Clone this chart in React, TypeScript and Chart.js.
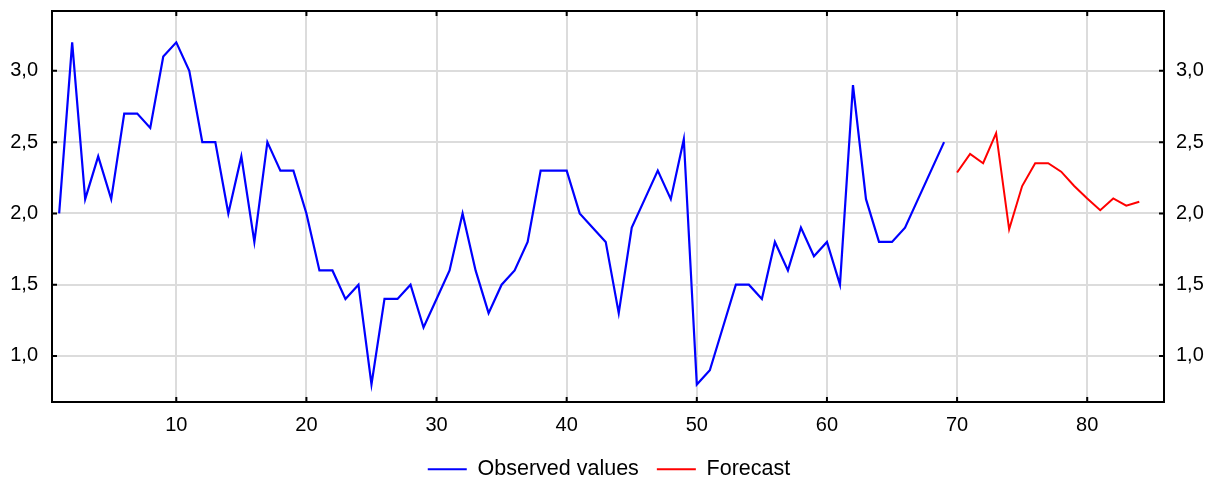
import React, { useEffect, useRef } from "react";
import { Chart, registerables } from "chart.js";

Chart.register(...registerables);

const observedValues: number[] = [
  2.0, 3.2, 2.1, 2.4, 2.1, 2.7, 2.7, 2.6, 3.1, 3.2,
  3.0, 2.5, 2.5, 2.0, 2.4, 1.8, 2.5, 2.3, 2.3, 2.0,
  1.6, 1.6, 1.4, 1.5, 0.8, 1.4, 1.4, 1.5, 1.2, 1.4,
  1.6, 2.0, 1.6, 1.3, 1.5, 1.6, 1.8, 2.3, 2.3, 2.3,
  2.0, 1.9, 1.8, 1.3, 1.9, 2.1, 2.3, 2.1, 2.52, 0.8,
  0.9, 1.2, 1.5, 1.5, 1.4, 1.8, 1.6, 1.9, 1.7, 1.8,
  1.5, 2.9, 2.1, 1.8, 1.8, 1.9, 2.1, 2.3, 2.5,
];
const forecastStart = 70;
const forecastValues: number[] = [
  2.287, 2.418, 2.352, 2.563, 1.888, 2.192, 2.352, 2.352, 2.293, 2.192,
  2.105, 2.023, 2.105, 2.054, 2.082,
];
const xTickValues: number[] = [10, 20, 30, 40, 50, 60, 70, 80];
const yTickValues: number[] = [1.0, 1.5, 2.0, 2.5, 3.0];
const seriesLabels: string[] = ["Observed values", "Forecast"];

const X_MIN = 0.45;
const X_MAX = 85.9;
const Y_MIN = 0.677;
const Y_MAX = 3.42;

const FONT = "'Liberation Sans', Arial, sans-serif";

const framePlugin = {
  id: "frame",
  afterDatasetsDraw(chart: any) {
    const { ctx, chartArea } = chart;
    const { left, right, top, bottom } = chartArea;
    const xs = chart.scales.x;
    const ys = chart.scales.y;
    const tick = 5;
    ctx.save();
    ctx.strokeStyle = "#000";
    ctx.lineWidth = 2;
    ctx.beginPath();
    for (const v of xTickValues) {
      const px = xs.getPixelForValue(v);
      ctx.moveTo(px, top);
      ctx.lineTo(px, top + tick);
      ctx.moveTo(px, bottom);
      ctx.lineTo(px, bottom - tick);
    }
    for (const v of yTickValues) {
      const py = ys.getPixelForValue(v);
      ctx.moveTo(left, py);
      ctx.lineTo(left + tick, py);
      ctx.moveTo(right, py);
      ctx.lineTo(right - tick, py);
    }
    ctx.stroke();
    ctx.strokeRect(left, top, right - left, bottom - top);
    ctx.restore();
  },
};

const fmt = (v: number) => v.toFixed(1).replace(".", ",");

export default function App() {
  const ref = useRef<HTMLCanvasElement | null>(null);

  useEffect(() => {
    document.body.style.margin = "0";
    document.body.style.overflow = "hidden";
    const canvas = ref.current;
    if (!canvas) return;

    const observedData = observedValues.map((y, i) => ({ x: i + 1, y }));
    const forecastData = forecastValues.map((y, i) => ({ x: forecastStart + i, y }));

    const noPadV = (s: any, w: number) => {
      s.width = w;
      s.paddingTop = 0;
      s.paddingBottom = 0;
    };

    const chart = new Chart(canvas, {
      type: "line",
      data: {
        datasets: [
          {
            label: seriesLabels[0],
            data: observedData,
            borderColor: "#0000ff",
            backgroundColor: "#0000ff",
            borderWidth: 2.2,
            pointRadius: 0,
            tension: 0,
            yAxisID: "y",
          },
          {
            label: seriesLabels[1],
            data: forecastData,
            borderColor: "#ff0000",
            backgroundColor: "#ff0000",
            borderWidth: 2,
            pointRadius: 0,
            tension: 0,
            yAxisID: "y",
          },
        ],
      },
      options: {
        animation: false,
        responsive: true,
        maintainAspectRatio: false,
        layout: { padding: { top: 11, left: 0, right: 0, bottom: 0 } },
        plugins: {
          tooltip: { enabled: false },
          legend: {
            position: "bottom",
            maxHeight: 38.5,
            labels: {
              usePointStyle: true,
              pointStyle: "line",
              pointStyleWidth: 39,
              padding: 18,
              color: "#000",
              font: { family: FONT, size: 21.5 },
            },
          },
        },
        scales: {
          x: {
            type: "linear",
            min: X_MIN,
            max: X_MAX,
            afterBuildTicks: (s: any) => {
              s.ticks = xTickValues.map((v) => ({ value: v }));
            },
            afterFit: (s: any) => {
              s.height = 38.5;
              s.paddingLeft = 0;
              s.paddingRight = 0;
            },
            grid: { color: "#dcdcdc", lineWidth: 2, drawTicks: false },
            border: { display: false },
            ticks: {
              padding: 11,
              color: "#000",
              font: { family: FONT, size: 20 },
              maxRotation: 0,
              callback: (v: any) => String(v),
            },
          },
          y: {
            type: "linear",
            position: "left",
            min: Y_MIN,
            max: Y_MAX,
            afterBuildTicks: (s: any) => {
              s.ticks = yTickValues.map((v) => ({ value: v }));
            },
            afterFit: (s: any) => noPadV(s, 52),
            grid: { color: "#dcdcdc", lineWidth: 2, drawTicks: false },
            border: { display: false },
            ticks: {
              padding: 14,
              color: "#000",
              font: { family: FONT, size: 20 },
              callback: (v: any) => fmt(Number(v)),
            },
          },
          y2: {
            type: "linear",
            position: "right",
            min: Y_MIN,
            max: Y_MAX,
            afterBuildTicks: (s: any) => {
              s.ticks = yTickValues.map((v) => ({ value: v }));
            },
            afterFit: (s: any) => noPadV(s, 54),
            grid: { display: false, drawTicks: false },
            border: { display: false },
            ticks: {
              padding: 12,
              color: "#000",
              font: { family: FONT, size: 20 },
              callback: (v: any) => fmt(Number(v)),
            },
          },
        },
      },
      plugins: [framePlugin],
    } as any);

    return () => chart.destroy();
  }, []);

  return (
    <div style={{ position: "relative", width: "1218px", height: "479px" }}>
      <canvas ref={ref} />
    </div>
  );
}
